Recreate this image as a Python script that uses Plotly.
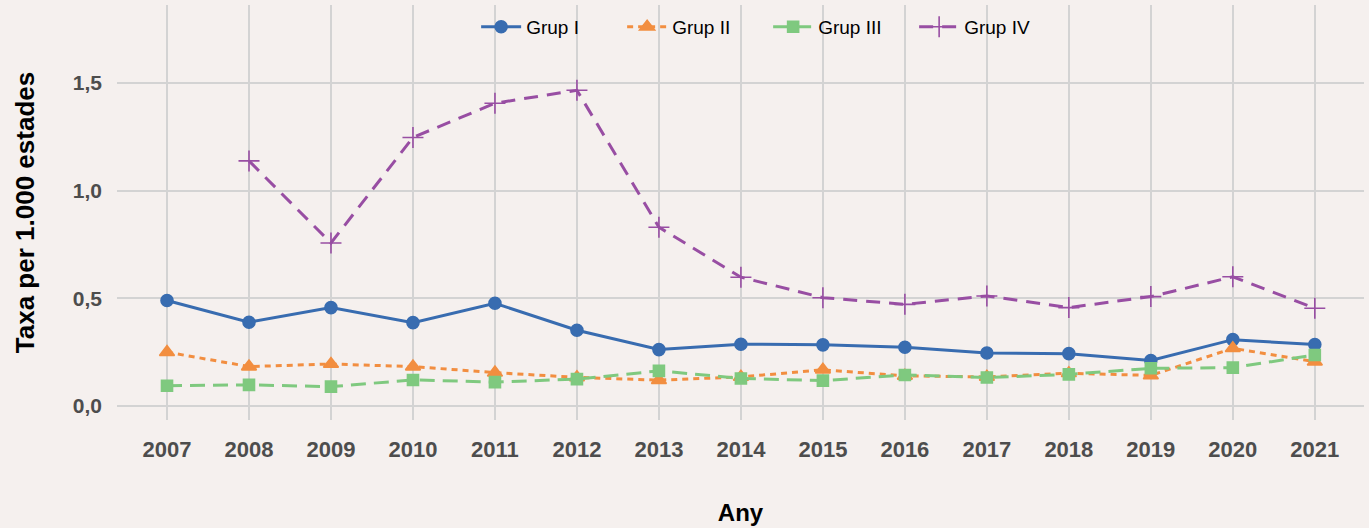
import plotly.graph_objects as go

anys = [2007, 2008, 2009, 2010, 2011, 2012, 2013, 2014, 2015, 2016, 2017, 2018, 2019, 2020, 2021]

grup_i = [0.49, 0.389, 0.457, 0.387, 0.477, 0.352, 0.262, 0.287, 0.284, 0.273, 0.246, 0.243, 0.211, 0.308, 0.285]
grup_ii = [0.25, 0.183, 0.195, 0.183, 0.155, 0.133, 0.12, 0.135, 0.168, 0.14, 0.135, 0.152, 0.142, 0.268, 0.206]
grup_iii = [0.094, 0.098, 0.09, 0.121, 0.111, 0.125, 0.163, 0.128, 0.118, 0.144, 0.132, 0.147, 0.175, 0.178, 0.237]
grup_iv = [None, 1.138, 0.757, 1.247, 1.406, 1.466, 0.83, 0.598, 0.503, 0.472, 0.511, 0.457, 0.508, 0.6, 0.454]

series = [
    ("Grup I", grup_i, "#386CB0", "solid", "circle", 12),
    ("Grup II", grup_ii, "#F28E40", "6px,5px", "triangle-up", 13),
    ("Grup III", grup_iii, "#7FC97F", "15px,8px", "square", 11),
    ("Grup IV", grup_iv, "#984EA3", "14px,9px", "cross-thin-open", 15),
]

fig = go.Figure()
for name, vals, color, dash, symbol, size in series:
    fig.add_trace(
        go.Scatter(
            x=anys,
            y=vals,
            name=name,
            mode="lines+markers",
            line=dict(color=color, width=3, dash=dash),
            marker=dict(symbol=symbol, size=size, color=color,
                        line=dict(color=color, width=1.6)),
        )
    )

bg = "#F5F0EE"
fnt = "Liberation Sans, Arial, sans-serif"
fig.update_layout(
    width=1369,
    height=528,
    paper_bgcolor=bg,
    plot_bgcolor=bg,
    margin=dict(l=117, r=5, t=5, b=108),
    font=dict(family=fnt, color="#000000"),
    legend=dict(
        orientation="h",
        x=0.288, xanchor="left",
        y=0.993, yanchor="top",
        bgcolor="rgba(0,0,0,0)",
        font=dict(size=19, color="#000000"),
        itemwidth=40,
        entrywidth=91,
        traceorder="normal",
    ),
    xaxis=dict(
        range=[2006.39, 2021.6],
        tickmode="array",
        tickvals=anys,
        ticktext=[str(a) for a in anys],
        showgrid=True,
        gridcolor="#D3D3D3",
        gridwidth=2,
        zeroline=False,
        ticks="",
        automargin=False,
        ticklabelstandoff=14,
        tickfont=dict(size=22, color="#4D4D4D", family=fnt, weight="bold"),
        title=dict(text="<b>Any</b>", font=dict(size=24, color="#000000"), standoff=43),
    ),
    yaxis=dict(
        range=[-0.065, 1.862],
        tickmode="array",
        tickvals=[0, 0.5, 1.0, 1.5],
        ticktext=["0,0", "0,5", "1,0", "1,5"],
        showgrid=True,
        gridcolor="#D3D3D3",
        gridwidth=2,
        zeroline=False,
        ticks="",
        automargin=False,
        ticklabelstandoff=14,
        tickfont=dict(size=21, color="#4D4D4D", family=fnt, weight="bold"),
        title=dict(text="<b>Taxa per 1.000 estades</b>", font=dict(size=26, color="#000000"), standoff=30),
    ),
)

fig.write_html("out.html", config={"displayModeBar": False},
               post_script="document.body.style.margin='0px';")
